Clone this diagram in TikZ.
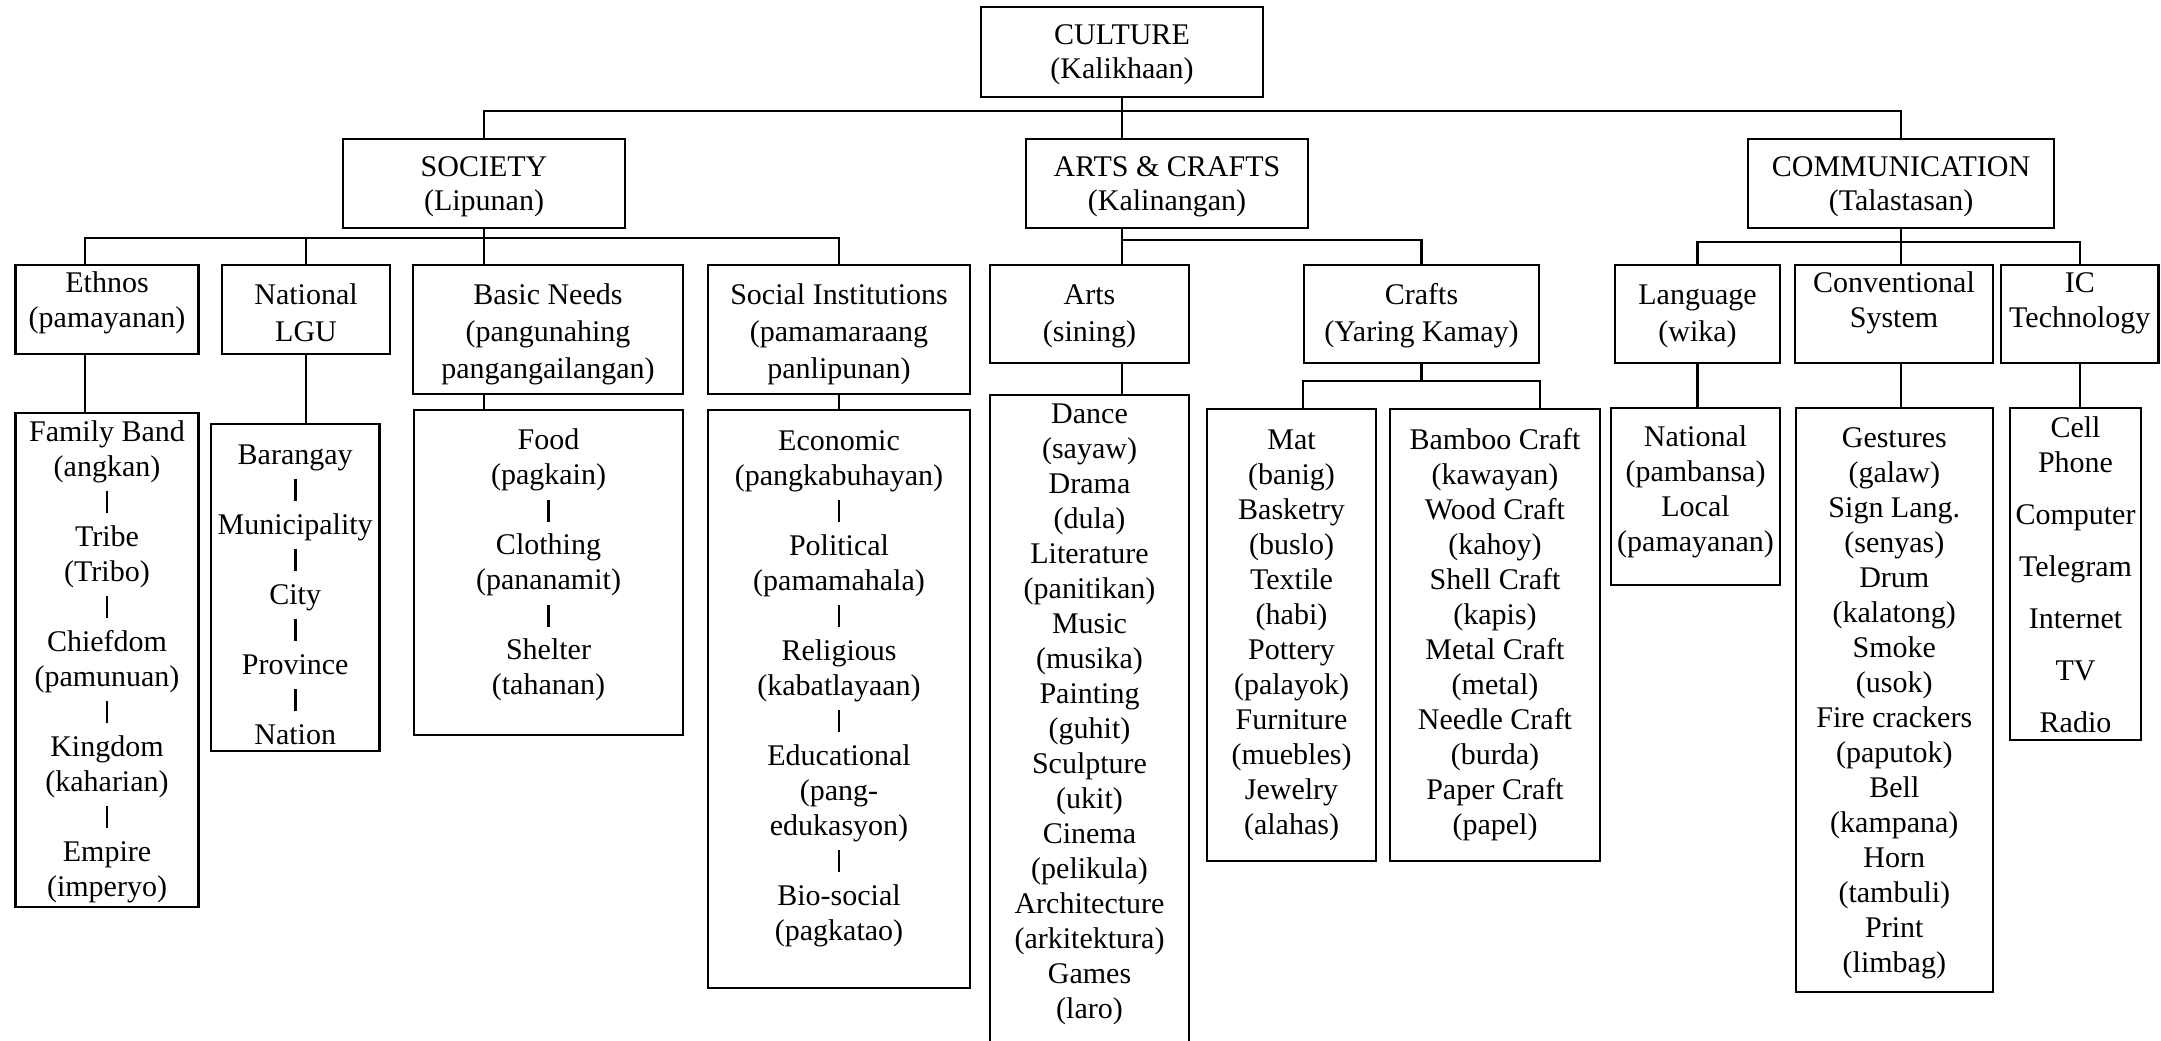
\documentclass[tikz,border=0pt]{standalone}
\usepackage{fontspec}
\setmainfont{Liberation Serif}
\usepackage{tikz}
\usetikzlibrary{calc}
\newcommand{\boxtext}[4]{\parbox[c][#2][t]{#1}{\centering\vspace*{#3}\strut #4}}
\newcommand{\sepbar}{\rule[-1pt]{1.4pt}{11pt}}

\begin{document}
\begin{tikzpicture}[x=1pt, y=-1pt,
    box/.style={draw, line width=1.1pt, inner sep=0pt, anchor=north, font=\fontsize{15}{18.5}\selectfont},
    headbox/.style={box, font=\fontsize{15}{17.2}\selectfont},
    listbox/.style={box, font=\fontsize{15}{17.5}\selectfont},
    link/.style={line width=1.1pt}]
    \useasboundingbox (0,0) rectangle (1080.5,520);

    % Root
    \node[headbox] (culture) at (561,3) {\boxtext{141pt}{45pt}{6.6pt}{CULTURE\\(Kalikhaan)}};

    % Main branches
    \node[headbox] (society) at (242,69) {\boxtext{141pt}{44.5pt}{6.6pt}{SOCIETY\\(Lipunan)}};
    \node[headbox] (ac) at (583.5,69) {\boxtext{141pt}{44.5pt}{6.6pt}{ARTS \& CRAFTS\\(Kalinangan)}};
    \node[headbox] (comm) at (950.5,69) {\boxtext{153pt}{44.5pt}{6.6pt}{COMMUNICATION\\(Talastasan)}};

    \coordinate (mainbus) at ($(culture.south)+(0,6.5)$);
    \draw[link] (culture.south) -- (culture.south |- ac.north);
    \draw[link] (society.north) |- (mainbus) -| (comm.north);

    % Society
    \node[headbox] (ethnos) at (53.5,132) {\boxtext{91.5pt}{44.5pt}{1.8pt}{Ethnos\\(pamayanan)}};
    \node[box] (lgu) at (153,132) {\boxtext{84pt}{44.5pt}{6.8pt}{National\\LGU}};
    \node[box] (needs) at (274,132) {\boxtext{135pt}{64.5pt}{6.8pt}{Basic Needs\\(pangunahing\\pangangailangan)}};
    \node[box] (socinst) at (419.5,132) {\boxtext{131pt}{64.5pt}{6.8pt}{Social Institutions\\(pamamaraang\\panlipunan)}};

    \node[listbox] (family) at (53.5,205.85) {\boxtext{91.5pt}{247pt}{2pt}{Family Band\\(angkan)\\\sepbar\\Tribe\\(Tribo)\\\sepbar\\Chiefdom\\(pamunuan)\\\sepbar\\Kingdom\\(kaharian)\\\sepbar\\Empire\\(imperyo)}};
    \node[listbox] (brgy) at (147.6,211.35) {\boxtext{84.25pt}{163.6pt}{8pt}{Barangay\\\sepbar\\Municipality\\\sepbar\\City\\\sepbar\\Province\\\sepbar\\Nation}};
    \node[listbox] (food) at (274.25,204.5) {\boxtext{134.5pt}{162.5pt}{7.5pt}{Food\\(pagkain)\\\sepbar\\Clothing\\(pananamit)\\\sepbar\\Shelter\\(tahanan)}};
    \node[listbox] (econ) at (419.5,204.35) {\boxtext{131pt}{289pt}{8pt}{Economic\\(pangkabuhayan)\\\sepbar\\Political\\(pamamahala)\\\sepbar\\Religious\\(kabatlayaan)\\\sepbar\\Educational\\(pang-\\edukasyon)\\\sepbar\\Bio-social\\(pagkatao)}};

    \coordinate (sbus) at ($(society.south)+(0,4.5)$);
    \draw[link] ([xshift=-11pt]ethnos.north) |- (sbus) -| (socinst.north);
    \draw[link] (lgu.north) -- (lgu.north |- sbus);
    \draw[link] (society.south) -- (society.south |- needs.north);
    \draw[link] ([xshift=-11pt]ethnos.south) -- ([xshift=-11pt]family.north);
    \draw[link] (lgu.south) -- (lgu.south |- brgy.north);
    \draw[link] (society.south |- needs.south) -- (society.south |- food.north);
    \draw[link] (socinst.south) -- (econ.north);

    % Arts and crafts
    \node[box] (arts) at (544.75,132) {\boxtext{99.5pt}{49pt}{6.8pt}{Arts\\(sining)}};
    \node[box] (crafts) at (710.75,132) {\boxtext{117.5pt}{49pt}{6.8pt}{Crafts\\(Yaring Kamay)}};

    \node[listbox] (dance) at (544.75,196.8) {\boxtext{99.5pt}{326pt}{2pt}{Dance\\(sayaw)\\Drama\\(dula)\\Literature\\(panitikan)\\Music\\(musika)\\Painting\\(guhit)\\Sculpture\\(ukit)\\Cinema\\(pelikula)\\Architecture\\(arkitektura)\\Games\\(laro)}};
    \node[listbox] (mat) at (645.75,204) {\boxtext{84.5pt}{226pt}{8pt}{Mat\\(banig)\\Basketry\\(buslo)\\Textile\\(habi)\\Pottery\\(palayok)\\Furniture\\(muebles)\\Jewelry\\(alahas)}};
    \node[listbox] (bamboo) at (747.5,204) {\boxtext{105pt}{226pt}{8pt}{Bamboo Craft\\(kawayan)\\Wood Craft\\(kahoy)\\Shell Craft\\(kapis)\\Metal Craft\\(metal)\\Needle Craft\\(burda)\\Paper Craft\\(papel)}};

    \coordinate (abus) at ($(ac.south)+(0,5.5)$);
    \draw[link] (culture.south |- ac.south) -- (culture.south |- arts.north);
    \draw[link] (culture.south |- abus) -| (crafts.north);
    \draw[link] (culture.south |- arts.south) -- (culture.south |- dance.north);
    \coordinate (kbus) at ($(crafts.south)+(0,8.5)$);
    \draw[link] (crafts.south) -- (kbus);
    \draw[link] (crafts.south west |- mat.north) |- (kbus) -| (crafts.south east |- bamboo.north);

    % Communication
    \node[box] (lang) at (848.75,132) {\boxtext{82.5pt}{49pt}{6.8pt}{Language\\(wika)}};
    \node[headbox] (conv) at (947,132) {\boxtext{99pt}{49pt}{1.8pt}{Conventional\\System}};
    \node[headbox] (ict) at (1039.9,132) {\boxtext{78.75pt}{49pt}{1.8pt}{IC\\Technology}};

    \node[listbox] (langsub) at (847.75,203.5) {\boxtext{84.5pt}{88.5pt}{7pt}{National\\(pambansa)\\Local\\(pamayanan)}};
    \node[listbox] (convsub) at (947.15,203.5) {\boxtext{98.7pt}{291.75pt}{7.5pt}{Gestures\\(galaw)\\Sign Lang.\\(senyas)\\Drum\\(kalatong)\\Smoke\\(usok)\\Fire crackers\\(paputok)\\Bell\\(kampana)\\Horn\\(tambuli)\\Print\\(limbag)}};
    \node[listbox] (icsub) at (1037.75,203.5) {\boxtext{65.5pt}{166pt}{2.5pt}{Cell\\Phone\\[8.5pt]Computer\\[8.5pt]Telegram\\[8.5pt]Internet\\[8.5pt]TV\\[8.5pt]Radio}};

    \coordinate (cbus) at ($(comm.south)+(0,6.5)$);
    \draw[link] (comm.south) -- (comm.south |- conv.north);
    \draw[link] (lang.north) |- (cbus) -| (ict.north);
    \draw[link] (lang.south) -- (lang.south |- langsub.north);
    \draw[link] (comm.south |- conv.south) -- (comm.south |- convsub.north);
    \draw[link] (ict.south) -- (ict.south |- icsub.north);

\end{tikzpicture}
\end{document}
